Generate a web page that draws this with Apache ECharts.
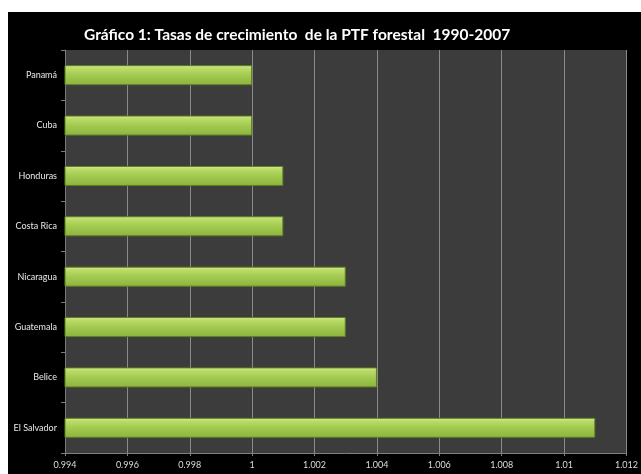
<!DOCTYPE html>
<html>
<head>
<meta charset="utf-8">
<script src="https://cdn.jsdelivr.net/npm/echarts@6/dist/echarts.min.js"></script>
<style>
  html, body { margin: 0; padding: 0; background: #fff; }
  #main { width: 641px; height: 474px; }
</style>
</head>
<body>
<div id="main"></div>
<script>
// categories bottom -> top (ECharts draws the first category at the bottom)
var countries = ['El Salvador', 'Belice', 'Guatemala', 'Nicaragua', 'Costa Rica', 'Honduras', 'Cuba', 'Panamá'];
var rates = [1.011, 1.004, 1.003, 1.003, 1.001, 1.001, 1.000, 1.000];
var xTicks = [0.994, 0.996, 0.998, 1, 1.002, 1.004, 1.006, 1.008, 1.01, 1.012];

var myChart = echarts.init(document.getElementById('main'));

var option = {
  backgroundColor: '#ffffff',
  animation: false,
  graphic: [{
    type: 'rect',
    z: -10,
    shape: { x: 8, y: 12, width: 633, height: 462 },
    style: { fill: '#000000' }
  }],
  title: {
    text: 'Gráfico 1: Tasas de crecimiento  de la PTF forestal  1990-2007',
    left: 79,
    top: 22,
    textStyle: { color: '#ffffff', fontFamily: 'Lato', fontWeight: 'bold', fontSize: 15.5 }
  },
  grid: {
    left: 65, right: 10, top: 50, bottom: 21,
    show: true,
    backgroundColor: '#3c3c3c',
    borderWidth: 0
  },
  xAxis: {
    type: 'value',
    min: 0.994,
    max: 1.012,
    interval: 0.002,
    axisLine: { show: true, lineStyle: { color: '#808080' } },
    axisTick: { show: true, length: 3, lineStyle: { color: '#808080' } },
    splitLine: { show: true, lineStyle: { color: '#8a8a8a', width: 1 } },
    axisLabel: {
      color: '#dcdcdc', fontSize: 9, fontFamily: 'Lato', margin: 8,
      formatter: function (v) {
        var r = Math.round(v * 1000) / 1000;
        return xTicks.indexOf(r) >= 0 ? String(r) : '';
      }
    }
  },
  yAxis: {
    type: 'category',
    data: countries,
    axisLine: { show: true, lineStyle: { color: '#7a7a7a' } },
    axisTick: { show: true, length: 4, lineStyle: { color: '#7a7a7a' } },
    axisLabel: { color: '#e8e8e8', fontSize: 9, fontFamily: 'Lato', margin: 8 }
  },
  series: [{
    type: 'bar',
    data: rates,
    barWidth: 20,
    itemStyle: {
      color: new echarts.graphic.LinearGradient(0, 0, 0, 1, [
        { offset: 0, color: '#dcf196' },
        { offset: 0.15, color: '#bcdc6a' },
        { offset: 0.5, color: '#a2ca50' },
        { offset: 1, color: '#8cb43e' }
      ]),
      borderColor: '#5e7e22',
      borderWidth: 1
    }
  }]
};
myChart.setOption(option);
</script>
</body>
</html>
